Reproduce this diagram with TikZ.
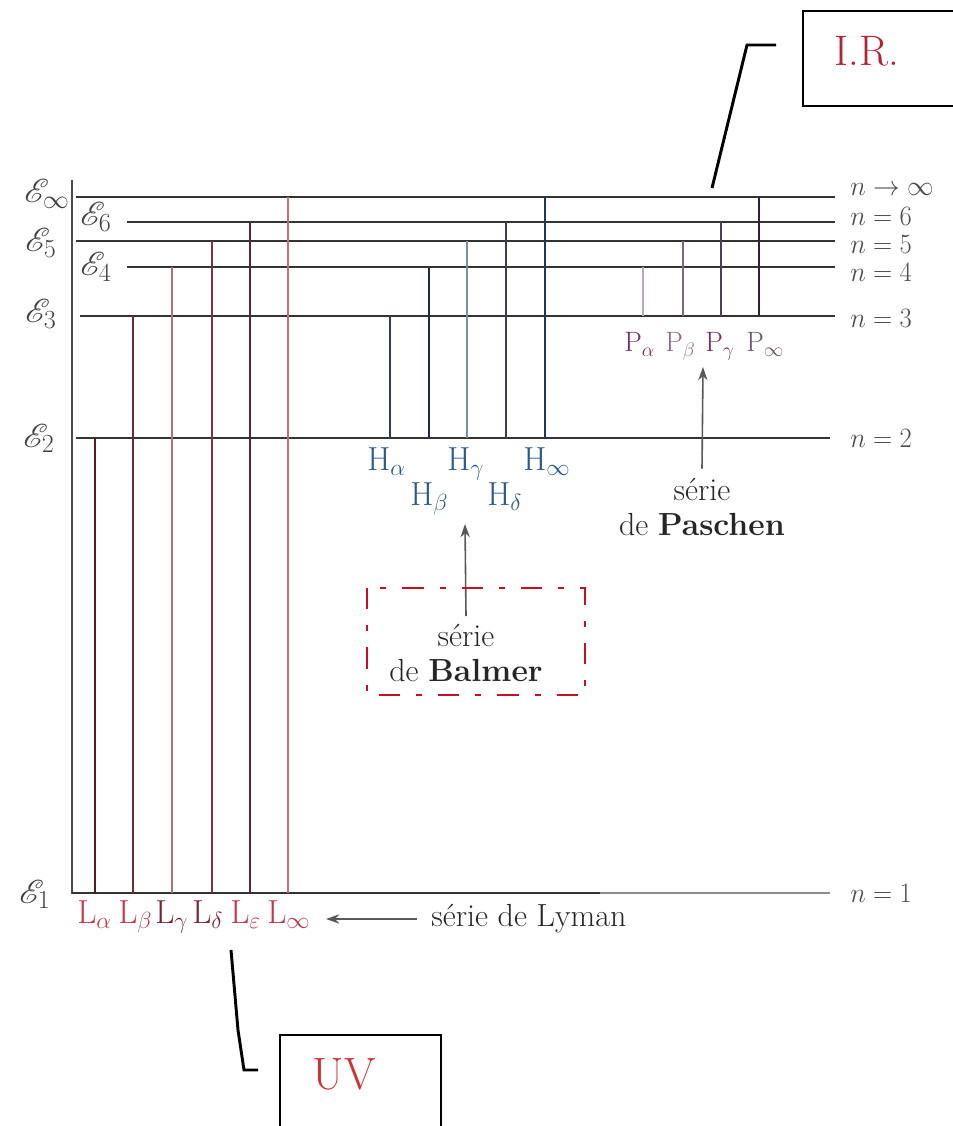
\documentclass[tikz,border=0pt]{standalone}
\usepackage{fix-cm}
\usepackage{fontspec}
\usepackage{mathrsfs}
\usetikzlibrary{arrows.meta}
\definecolor{levgray}{HTML}{333333}
\definecolor{lya}{HTML}{5A1A22}
\definecolor{lyb}{HTML}{6E2A34}
\definecolor{lyc}{HTML}{A87478}
\definecolor{lyd}{HTML}{7A3444}
\definecolor{lye}{HTML}{5E2434}
\definecolor{lyf}{HTML}{CC6A7A}
\definecolor{hba}{HTML}{2E3C5C}
\definecolor{hbb}{HTML}{1E2A48}
\definecolor{hbc}{HTML}{7A90A8}
\definecolor{hbd}{HTML}{3A3A5C}
\definecolor{hbe}{HTML}{24345A}
\definecolor{psa}{HTML}{B8A8B8}
\definecolor{psb}{HTML}{806878}
\definecolor{psc}{HTML}{4E3E50}
\definecolor{psd}{HTML}{302434}
\definecolor{lred}{HTML}{C03A4E}
\definecolor{ldark}{HTML}{7A2438}
\definecolor{hblue}{HTML}{2C5A88}
\definecolor{ppur}{HTML}{7A2C62}
\definecolor{pgray}{HTML}{8A6A82}
\definecolor{irred}{HTML}{B02434}
\definecolor{uvred}{HTML}{D03030}
\definecolor{bred}{HTML}{C41020}
\begin{document}
\begin{tikzpicture}[x=0.75pt,y=-0.75pt,
  lev/.style={line width=1.9pt, draw=levgray},
  tr/.style={line width=2pt},
  elab/.style={anchor=base west, inner sep=0pt, font=\fontsize{28}{28}\selectfont, text=black!75},
  nlab/.style={anchor=west, inner sep=0pt, font=\fontsize{21}{21}\selectfont, text=black!70},
  llab/.style={anchor=base west, inner sep=0pt, font=\fontsize{25}{25}\selectfont},
  hlab/.style={anchor=base west, inner sep=0pt, font=\fontsize{25}{25}\selectfont, text=hblue},
  plab/.style={anchor=base west, inner sep=0pt, font=\fontsize{21}{21}\selectfont},
  txt/.style={font=\fontsize{24}{26}\selectfont, align=center, inner sep=0pt, text=black!85},
  arr/.style={-{Stealth[length=10pt,width=7pt]}, line width=1.2pt, draw=black!65},
  boxline/.style={line width=2.2pt, draw=black},
  leader/.style={line width=2.2pt, draw=black},
  bigtxt/.style={inner sep=0pt, font=\fontsize{32}{32}\selectfont},
]
\useasboundingbox (0,0) rectangle (952,1126);

% axis
\draw[line width=1.8pt, draw=black!70] (72,180) -- (72,894);

% energy levels
\draw[lev] (76,197) -- (835,197);
\draw[lev] (127,222) -- (835,222);
\draw[lev] (76,241) -- (835,241);
\draw[lev] (127,267) -- (835,267);
\draw[lev] (80,316) -- (835,316);
\draw[lev] (76,438) -- (830,438);
\draw[lev] (72,893) -- (600,893);
\draw[line width=1.9pt, draw=black!45] (600,893) -- (830,893);

% Lyman lines
\draw[tr, draw=lya] (95,438) -- (95,893);
\draw[tr, draw=lyb] (133,316) -- (133,893);
\draw[tr, draw=lyc] (172,267) -- (172,893);
\draw[tr, draw=lyd] (212,241) -- (212,893);
\draw[tr, draw=lye] (250,222) -- (250,893);
\draw[tr, draw=lyf] (288,197) -- (288,893);

% Balmer lines
\draw[tr, draw=hba] (390,316) -- (390,438);
\draw[tr, draw=hbb] (429,267) -- (429,438);
\draw[tr, draw=hbc] (467,241) -- (467,438);
\draw[tr, draw=hbd] (506,222) -- (506,438);
\draw[tr, draw=hbe] (545,197) -- (545,438);

% Paschen lines
\draw[tr, draw=psa] (643,267) -- (643,316);
\draw[tr, draw=psb] (683,241) -- (683,316);
\draw[tr, draw=psc] (721,222) -- (721,316);
\draw[tr, draw=psd] (759,197) -- (759,316);

% energy labels
\node[elab] (einf) at (24,203) {$\mathscr{E}_{\infty}$};
\node[elab] (esix) at (80,226) {$\mathscr{E}_{6}$};
\node[elab] (efive) at (25,252) {$\mathscr{E}_{5}$};
\node[elab] (efour) at (80,276) {$\mathscr{E}_{4}$};
\node[elab] (ethree) at (25,323) {$\mathscr{E}_{3}$};
\node[elab] (etwo) at (23,447) {$\mathscr{E}_{2}$};
\node[elab] (eone) at (19,903) {$\mathscr{E}_{1}$};

% n labels
\node[nlab] (ninf) at (850,189) {\scalebox{0.95}[1]{$n\to\infty$}};
\node[nlab] (nsix) at (850,216) {\scalebox{0.95}[1]{$n=6$}};
\node[nlab] (nfive) at (850,244) {\scalebox{0.95}[1]{$n=5$}};
\node[nlab] (nfour) at (850,272) {\scalebox{0.95}[1]{$n=4$}};
\node[nlab] (nthree) at (850,318) {\scalebox{0.95}[1]{$n=3$}};
\node[nlab] (ntwo) at (850,438) {\scalebox{0.95}[1]{$n=2$}};
\node[nlab] (none) at (850,893) {\scalebox{0.95}[1]{$n=1$}};

% Lyman labels
\node[llab, text=lred] (la) at (77,923) {L$_{\alpha}$};
\node[llab, text=lred] (lb) at (118,923) {L$_{\beta}$};
\node[llab, text=ldark] (lc) at (155,923) {L$_{\gamma}$};
\node[llab, text=ldark] (ld) at (192,923) {L$_{\delta}$};
\node[llab, text=lred] (le) at (230,923) {L$_{\varepsilon}$};
\node[llab, text=lred] (lf) at (267,923) {L$_{\infty}$};

% Balmer labels
\node[hlab] (ha) at (367,470) {H$_{\alpha}$};
\node[hlab] (hc) at (447,470) {H$_{\gamma}$};
\node[hlab] (he) at (523,470) {H$_{\infty}$};
\node[hlab] (hb) at (410,505) {H$_{\beta}$};
\node[hlab] (hd) at (487,505) {H$_{\delta}$};

% Paschen labels
\node[plab, text=ppur] (pa) at (624,352) {P$_{\alpha}$};
\node[plab, text=pgray] (pb) at (665,352) {P$_{\beta}$};
\node[plab, text=ppur] (pc) at (705,352) {P$_{\gamma}$};
\node[plab, text=pgray!80!black] (pd) at (746,352) {P$_{\infty}$};

% series texts
\node[txt, anchor=base west] (lymantxt) at (431,926) {série de Lyman};
\coordinate (lytail) at (417,919);
\coordinate (lytip) at (326,919);
\draw[arr] (lytail) -- (lytip);

\node[txt, anchor=north] (balmertxt) at (466,624) {série\\de \textbf{Balmer}};
\coordinate (balmertip) at (465,524);
\draw[arr] ([yshift=6pt]balmertxt.north) -- (balmertip);
\draw[line width=2.2pt, draw=bred, dash pattern=on 16pt off 12pt on 4.5pt off 12pt] (367,588) rectangle (585,695);

\node[txt, anchor=north] (paschentxt) at (702,478) {série\\de \textbf{Paschen}};
\coordinate (paschentip) at (703,367);
\draw[arr] ([yshift=7pt]paschentxt.north) -- (paschentip);

% I.R. box
\draw[boxline] (803,11) rectangle (975,106);
\node[bigtxt, text=irred] (irtxt) at (867,51) {I.R.};
\coordinate (ira) at (712,188);
\coordinate (irb) at (747,45);
\coordinate (irc) at (776,45);
\draw[leader] (ira) -- (irb) -- (irc);

% UV box
\draw[boxline] (280,1035) rectangle (441,1145);
\node[bigtxt, text=uvred, font=\fontsize{34}{34}\selectfont] (uvtxt) at (344,1074) {UV};
\coordinate (uva) at (231,950);
\coordinate (uvb) at (238,1030);
\coordinate (uvc) at (244,1070);
\coordinate (uvd) at (258,1070);
\draw[leader] (uva) -- (uvb) -- (uvc) -- (uvd);
\end{tikzpicture}
\end{document}
